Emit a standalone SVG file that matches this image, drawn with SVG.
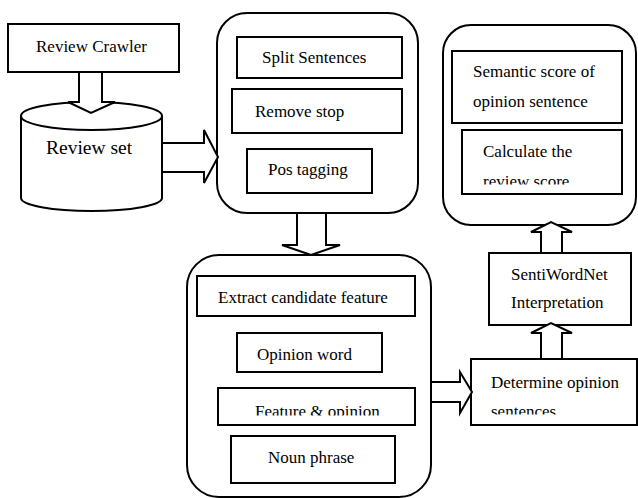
<svg xmlns="http://www.w3.org/2000/svg" width="638" height="498" viewBox="0 0 638 498">
<style>
.box{fill:#fff;stroke:#000;stroke-width:2}
.grp{fill:#fff;stroke:#000;stroke-width:2}
.arr{fill:#fff;stroke:#000;stroke-width:2;stroke-linejoin:miter}
.t{font-family:'Liberation Serif','DejaVu Serif',serif;font-size:17px;fill:#000}
.big{font-size:19.5px}
</style>
<defs>
<clipPath id="c1"><rect x="210" y="385" width="210" height="30.5"/></clipPath>
<clipPath id="c2"><rect x="472" y="360" width="165" height="54.5"/></clipPath>
<clipPath id="c3"><rect x="463" y="131" width="158" height="53.5"/></clipPath>
</defs>
<rect width="638" height="498" fill="#fff"/>
<g id="review-crawler">
<rect class="box" x="8" y="24" width="171" height="48"/>
<text class="t" font-family="Liberation Serif, serif" x="36" y="52">Review Crawler</text>
</g>
<g id="review-set">
<path class="box" d="M21,116 A70.5,14 0 0 1 162,116 L162,198 A70.5,13 0 0 1 21,198 Z"/>
<path d="M21,116 A70.5,14 0 0 0 162,116" fill="none" stroke="#000" stroke-width="2"/>
<text class="t big" font-family="Liberation Serif, serif" x="46" y="154">Review set</text>
</g>
<g id="preprocess">
<rect class="grp" x="217" y="13" width="201" height="200" rx="30" ry="30"/>
<rect class="box" x="237" y="37" width="165" height="41"/>
<text class="t" font-family="Liberation Serif, serif" x="262" y="63">Split Sentences</text>
<rect class="box" x="232" y="89" width="170" height="44"/>
<text class="t" font-family="Liberation Serif, serif" x="255" y="117">Remove stop</text>
<rect class="box" x="247" y="149" width="125" height="44"/>
<text class="t" font-family="Liberation Serif, serif" x="268" y="175">Pos tagging</text>
</g>
<g id="extract">
<rect class="grp" x="187" y="255" width="244" height="242" rx="32" ry="32"/>
<rect class="box" x="197" y="276" width="218" height="40"/>
<text class="t" font-family="Liberation Serif, serif" x="218" y="303">Extract candidate feature</text>
<rect class="box" x="237" y="333" width="145" height="39"/>
<text class="t" font-family="Liberation Serif, serif" x="257" y="360">Opinion word</text>
<rect class="box" x="218" y="388" width="197" height="37"/>
<text class="t" font-family="Liberation Serif, serif" x="255" y="417" clip-path="url(#c1)">Feature &amp; opinion</text>
<rect class="box" x="231" y="436" width="164" height="47"/>
<text class="t" font-family="Liberation Serif, serif" x="268" y="463">Noun phrase</text>
</g>
<g id="determine">
<rect class="box" x="471" y="359" width="166" height="66"/>
<text class="t" font-family="Liberation Serif, serif" x="491" y="388">Determine opinion</text>
<text class="t" font-family="Liberation Serif, serif" x="491" y="417" clip-path="url(#c2)">sentences</text>
</g>
<g id="sentiwordnet">
<rect class="box" x="489" y="253" width="142" height="72"/>
<text class="t" font-family="Liberation Serif, serif" x="511" y="280">SentiWordNet</text>
<text class="t" font-family="Liberation Serif, serif" x="511" y="308">Interpretation</text>
</g>
<g id="scoring">
<rect class="grp" x="443" y="25" width="193" height="200" rx="28" ry="28"/>
<rect class="box" x="452" y="51" width="170" height="72"/>
<text class="t" font-family="Liberation Serif, serif" x="473" y="77">Semantic score of</text>
<text class="t" font-family="Liberation Serif, serif" x="473" y="107">opinion sentence</text>
<rect class="box" x="462" y="130" width="160" height="64"/>
<text class="t" font-family="Liberation Serif, serif" x="483" y="157">Calculate the</text>
<text class="t" font-family="Liberation Serif, serif" x="483" y="187" clip-path="url(#c3)">review score</text>
</g>
<g id="connectors">
<polygon class="arr" points="79,72 102,72 102,102 115,102 91,113 68,102 79,102"/>
<polygon class="arr" points="162,143 204,143 204,130 218,157 204,183 204,172 162,172"/>
<polygon class="arr" points="297,213 326,213 326,245 340,245 311,255 282,245 297,245"/>
<polygon class="arr" points="431,382 460,382 460,372 472,392 460,413 460,402 431,402"/>
<polygon class="arr" points="541,359 541,333 531,333 551,323 572,333 562,333 562,359"/>
<polygon class="arr" points="541,253 541,232 531,232 551,222 572,232 562,232 562,253"/>
</g>
</svg>
